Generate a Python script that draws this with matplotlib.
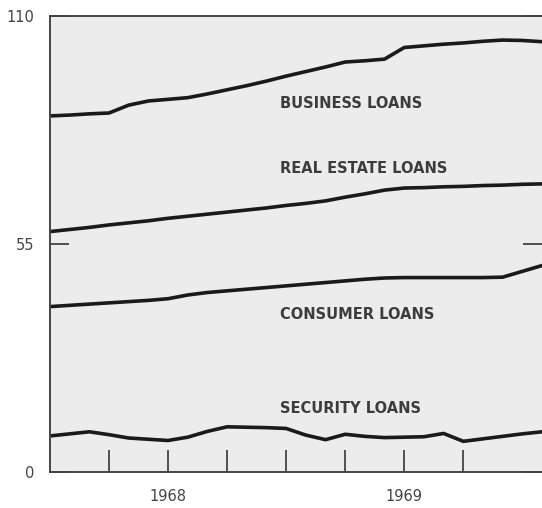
import matplotlib
matplotlib.use("Agg")
import matplotlib.pyplot as plt

# months relative to Jan 1968 (Jul 1967 .. Aug 1969)
months = list(range(-6, 20))

business = [85.9, 86.1, 86.4, 86.6, 88.5, 89.5, 89.9, 90.3, 91.2, 92.2, 93.2, 94.3, 95.5,
            96.6, 97.7, 98.9, 99.2, 99.6, 102.4, 102.8, 103.2, 103.5, 103.9, 104.2, 104.1, 103.8]
real_estate = [58.0, 58.5, 59.0, 59.6, 60.1, 60.6, 61.2, 61.7, 62.2, 62.7, 63.2, 63.7, 64.3,
               64.8, 65.4, 66.3, 67.1, 68.0, 68.5, 68.6, 68.8, 68.9, 69.1, 69.2, 69.4, 69.5]
consumer = [39.9, 40.2, 40.5, 40.8, 41.1, 41.4, 41.8, 42.7, 43.3, 43.7, 44.1, 44.5, 44.9,
            45.3, 45.7, 46.1, 46.5, 46.8, 46.9, 46.9, 46.9, 46.9, 46.9, 47.0, 48.4, 49.8]
security = [8.7, 9.2, 9.7, 9.0, 8.2, 7.9, 7.6, 8.4, 9.8, 10.9, 10.8, 10.7, 10.5,
            8.9, 7.8, 9.1, 8.6, 8.3, 8.4, 8.5, 9.3, 7.4, 8.0, 8.6, 9.2, 9.7]

series = [business, real_estate, consumer, security]
names = ["BUSINESS LOANS", "REAL ESTATE LOANS", "CONSUMER LOANS", "SECURITY LOANS"]
label_y = [89.0, 73.3, 38.1, 15.2]

quarter_ticks = [-3, 0, 3, 6, 9, 12, 15]
quarter_labels = ["", "1968", "", "", "", "1969", ""]
y_ticks = [0, 55, 110]

fig = plt.figure(figsize=(5.42, 5.08), dpi=100)
ax = fig.add_axes([50 / 542, 36 / 508, 492 / 542, 456 / 508])
ax.set_facecolor("#ececec")

for vals in series:
    ax.plot(months, vals, color="#1a1a1a", linewidth=2.6, solid_joinstyle="round")

for name, y in zip(names, label_y):
    ax.text(5.69, y, name, fontsize=10.5, fontweight="bold", color="#3c3c3c",
            va="center", ha="left", family="DejaVu Sans")

ax.set_xlim(-6, 19)
ax.set_ylim(0, 110)

ax.set_xticks(quarter_ticks)
ax.set_xticklabels(quarter_labels, fontsize=10.5, color="#444444")
ax.set_yticks(y_ticks)
ax.set_yticklabels([str(v) for v in y_ticks], fontsize=10.5, color="#444444")

ax.tick_params(axis="x", direction="in", length=16, width=1.3, color="#444444", pad=12)
ax.tick_params(axis="y", direction="in", length=14, width=1.3, color="#444444", pad=11,
               right=True, labelright=False)

ax.spines["right"].set_visible(False)
for s in ["left", "top", "bottom"]:
    ax.spines[s].set_color("#444444")
    ax.spines[s].set_linewidth(1.4)

fig.savefig("out.png", dpi=100)
